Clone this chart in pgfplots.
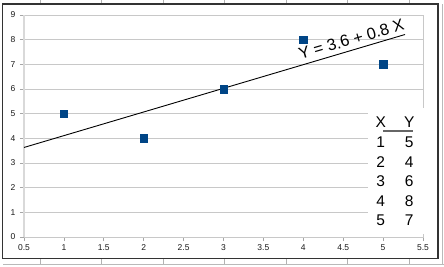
\documentclass[border=0pt]{standalone}
\usepackage{fontspec}
\setmainfont{Liberation Sans}
\usepackage{pgfplots}
\pgfplotsset{compat=1.18}
\definecolor{ptblue}{HTML}{004586}
\definecolor{gridgray}{HTML}{C8C8C8}
\begin{document}
\begin{tikzpicture}[x=1pt,y=1pt]
\useasboundingbox (0,0) rectangle (444,266);
\fill[white] (0,0) rectangle (444,266);
% column ruler ticks outside the frame
\foreach \xx in {40,101.5,163,224.5,286,347.5,409}{
  \draw[gray!60,line width=0.6pt] (\xx,266) -- (\xx,262);
  \draw[gray!60,line width=0.6pt] (\xx,7) -- (\xx,2);
}
\draw[gray!55,line width=1pt] (3,2) -- (444,2);
\draw[gray!55,line width=1pt] (442,2) -- (442,262);
\begin{axis}[
  at={(24pt,29pt)}, anchor=south west,
  scale only axis, width=399pt, height=222pt,
  xmin=0.5, xmax=5.5, ymin=0, ymax=9,
  xtick={0.5,1,1.5,2,2.5,3,3.5,4,4.5,5,5.5},
  ytick={0,1,...,9},
  xticklabels={0.5,1,1.5,2,2.5,3,3.5,4,4.5,5,5.5},
  ymajorgrids, grid style={gridgray, line width=0.8pt},
  axis line style={gridgray, line width=0.8pt},
  tick align=outside, major tick length=4pt,
  tick style={gray!70, line width=0.6pt},
  xtick pos=bottom, ytick pos=left,
  tick label style={font=\fontsize{8.5}{9}\selectfont, text=black!90},
  /pgf/number format/assume math mode=true,
  xticklabel style={yshift=0pt},
  yticklabel style={xshift=-1pt},
  clip=false,
]
\draw[black!15, line width=2pt] (axis cs:0.5,0) -- (axis cs:0.5,9);
\addplot[only marks, mark=square*, mark size=3.7pt, mark options={fill=ptblue, draw=ptblue}]
  coordinates {(1,5) (2,4) (3,6) (4,8) (5,7)};
\addplot[black, line width=0.9pt, no marks] coordinates {(0.5,3.63) (5.275,8.21)};
\end{axis}
% equation label
\node[anchor=base west, rotate=16.3, inner sep=0pt, font=\fontsize{16.3}{17}\selectfont] at (300.5,206) {Y = 3.6 + 0.8 X};
% table
\fill[white] (368,32) rectangle (436.5,158);
\begin{scope}[every node/.style={font=\fontsize{15.5}{16}\selectfont, inner sep=0pt, anchor=center}]
\node at (380.7,144) {X}; \node at (409.3,144) {Y};
\draw[black!60, line width=1.8pt] (383,135.3) -- (413,135.3);
\foreach \r/\a/\b in {0/1/5,1/2/4,2/3/6,3/4/8,4/5/7}{
  \node at (380.7,{123.5-19.5*\r}) {\a};
  \node at (409.3,{123.5-19.5*\r}) {\b};
}
\end{scope}
% outer frame
\draw[black!80, line width=1.6pt] (2.5,262) rectangle (438,7.5);
\end{tikzpicture}
\end{document}
